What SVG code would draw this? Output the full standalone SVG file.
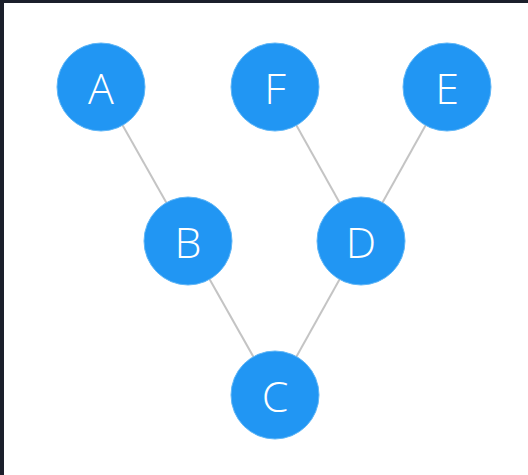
<svg xmlns="http://www.w3.org/2000/svg" width="528" height="475" viewBox="0 0 528 475">
<style>
.node circle{fill:#2196f3;stroke:#5fb6f7;stroke-width:1}
.node text{fill:#ffffff;font-family:"Open Sans","Noto Sans","DejaVu Sans",sans-serif;font-weight:300;font-size:43px;text-anchor:middle;dominant-baseline:central}
.edges line{stroke:#c4c4c4;stroke-width:2}
</style>
<rect x="0" y="0" width="528" height="475" fill="#1b1f2b"/>
<rect x="4" y="3" width="524" height="472" fill="#ffffff"/>
<g id="edges" class="edges">
<line x1="101" y1="87" x2="188" y2="241"/>
<line x1="275" y1="87" x2="361" y2="241"/>
<line x1="447" y1="87" x2="361" y2="241"/>
<line x1="188" y1="241" x2="275" y2="395"/>
<line x1="361" y1="241" x2="275" y2="395"/>
</g>
<g id="node-A" class="node"><circle cx="101" cy="87" r="44"/><text x="101" y="87">A</text></g>
<g id="node-F" class="node"><circle cx="275" cy="87" r="44"/><text x="275" y="87">F</text></g>
<g id="node-E" class="node"><circle cx="447" cy="87" r="44"/><text x="447" y="87">E</text></g>
<g id="node-B" class="node"><circle cx="188" cy="241" r="44"/><text x="188" y="241">B</text></g>
<g id="node-D" class="node"><circle cx="361" cy="241" r="44"/><text x="361" y="241">D</text></g>
<g id="node-C" class="node"><circle cx="275" cy="395" r="44"/><text x="275" y="395">C</text></g>
</svg>
